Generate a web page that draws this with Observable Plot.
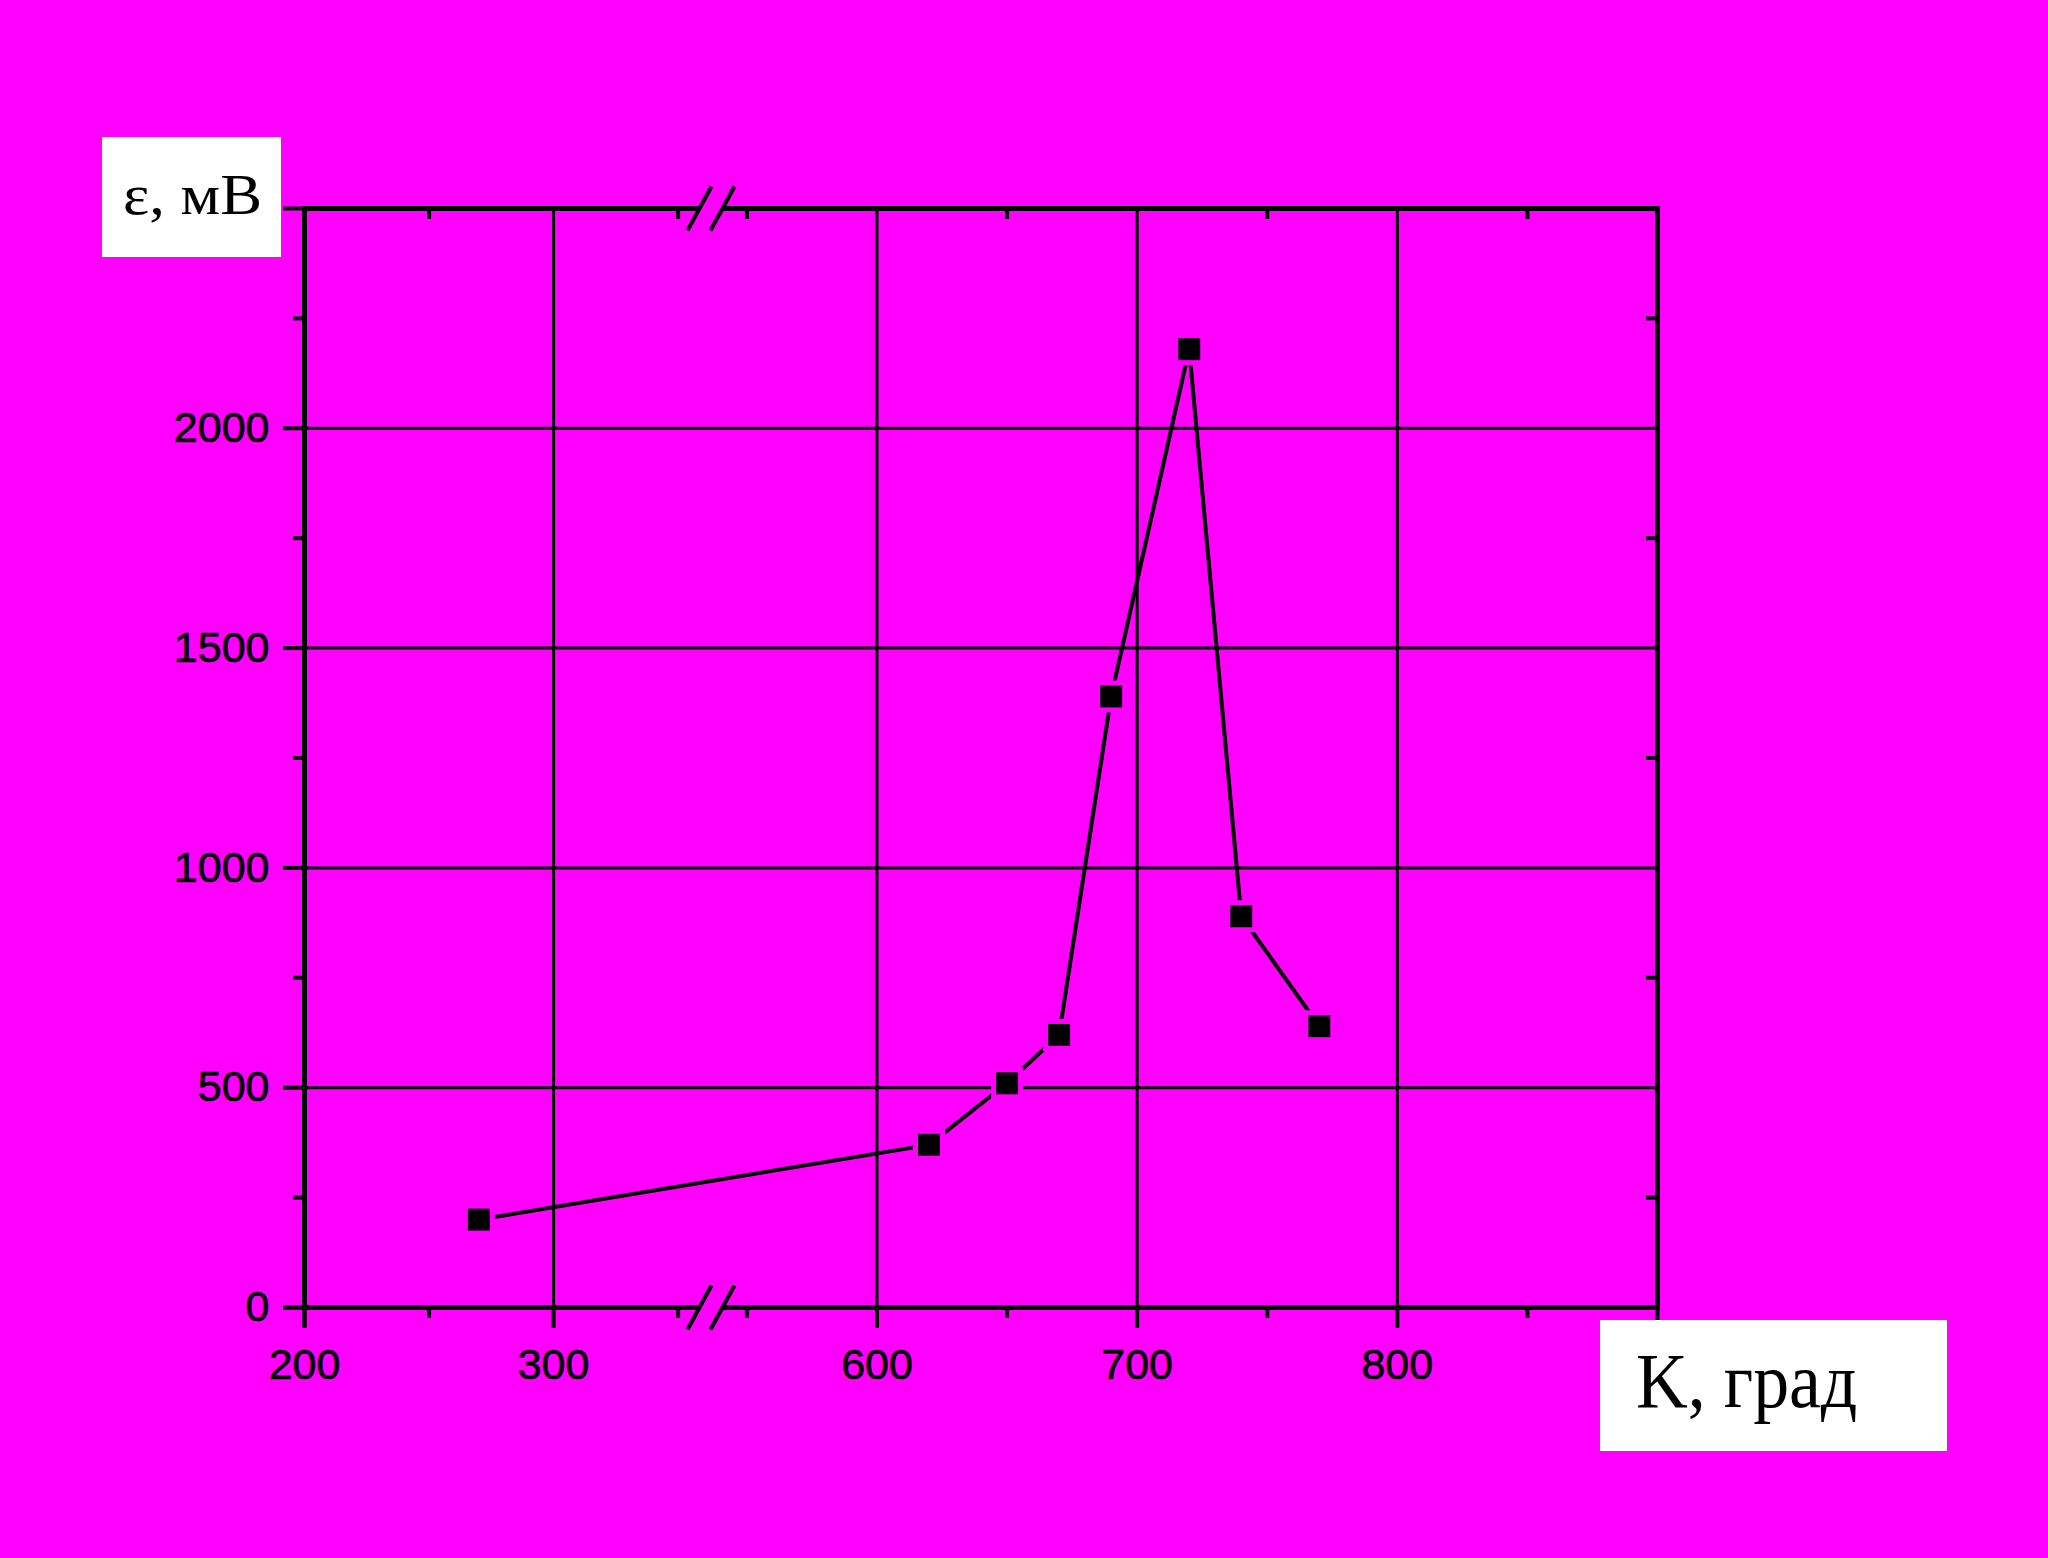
<!DOCTYPE html>
<html>
<head>
<meta charset="utf-8">
<script src="https://cdn.jsdelivr.net/npm/d3@7"></script>
<script src="https://cdn.jsdelivr.net/npm/@observablehq/plot@0.6"></script>
<style>
  html, body { margin: 0; padding: 0; background: #ff00ff; }
  #wrap { position: relative; width: 2048px; height: 1558px; overflow: hidden; }
  .lab { position: absolute; background: #ffffff; font-family: "Liberation Serif", "Times New Roman", serif; color: #000; }
  .lab span { position: absolute; white-space: nowrap; transform-origin: 0 0; }
  g[aria-label$="tick label"] text { stroke: #000; stroke-width: 0.7px; }
</style>
</head>
<body>
<div id="wrap"></div>
<script>
// ---- data ----
const temperature = [270, 620, 650, 670, 690, 720, 740, 770];
const emf = [200, 370, 510, 620, 1390, 2180, 890, 640];

const xLabeledTicks = [200, 300, 600, 700, 800];
const xMinorTicks = [250, 350, 550, 650, 750, 850];
const xGridLines = [300, 600, 700, 800];
const xBreak = [363, 536];          // axis break: left part ends, right part starts
const xExtent = [200, 900];

const yLabeledTicks = [0, 500, 1000, 1500, 2000];
const yMinorTicks = [250, 750, 1250, 1750, 2250];
const yGridLines = [500, 1000, 1500, 2000];
const yExtent = [0, 2500];

const yTitle = "ε, мВ";
const xTitle = "K, град";

// ---- layout ----
const W = 2048, H = 1558;
const mL = 304, mR = 391, mT = 208, mB = 251;
const frameW = W - mL - mR, frameH = H - mT - mB;
const breakPx = 710;

const data = temperature.map((t, i) => ({t, e: emf[i]}));
const breakEnds = yExtent.map(y => ({x: xBreak[0], y}));

const slash = {draw(ctx) { ctx.moveTo(-12, 22); ctx.lineTo(12, -22); }};
const gap = {draw(ctx) { ctx.rect(-12, -5, 24, 10); }};

const ink = "#000";
const bg = "#ff00ff";

const chart = Plot.plot({
  width: W,
  height: H,
  marginLeft: mL, marginRight: mR, marginTop: mT, marginBottom: mB,
  style: {background: "transparent", fontFamily: "'Liberation Sans', Arial, sans-serif", color: ink, overflow: "visible"},
  x: {type: "linear", domain: [xExtent[0], xBreak[0], xBreak[1], xExtent[1]], range: [mL, breakPx, breakPx, W - mR]},
  y: {domain: yExtent},
  marks: [
    Plot.gridX(xGridLines, {stroke: ink, strokeOpacity: 1, strokeWidth: 3}),
    Plot.gridY(yGridLines, {stroke: ink, strokeOpacity: 1, strokeWidth: 3}),
    // inward minor ticks on top and right
    Plot.ruleX(xMinorTicks, {stroke: ink, strokeWidth: 4, insetBottom: frameH - 11}),
    Plot.ruleY(yMinorTicks, {stroke: ink, strokeWidth: 4, insetLeft: frameW - 11}),
    Plot.frame({stroke: ink, strokeWidth: 5}),
    // outward ticks bottom & left
    Plot.axisX(xLabeledTicks, {anchor: "bottom", tickSize: 21, tickPadding: 20, strokeWidth: 4, fontSize: 43, label: null, tickFormat: d => String(d)}),
    Plot.axisX(xExtent, {anchor: "bottom", tickSize: 21, strokeWidth: 4, label: null, tickFormat: () => ""}),
    Plot.axisX(xMinorTicks, {anchor: "bottom", tickSize: 11, strokeWidth: 4, label: null, tickFormat: () => ""}),
    Plot.axisY(yLabeledTicks, {anchor: "left", tickSize: 21, tickPadding: 14, strokeWidth: 4, fontSize: 43, label: null, tickFormat: d => String(d)}),
    Plot.axisY(yExtent, {anchor: "left", tickSize: 21, strokeWidth: 4, label: null, tickFormat: () => ""}),
    Plot.axisY(yMinorTicks, {anchor: "left", tickSize: 11, strokeWidth: 4, label: null, tickFormat: () => ""}),
    // axis break marks
    Plot.dot(breakEnds, {x: "x", y: "y", symbol: gap, fill: bg, stroke: "none"}),
    Plot.dot(breakEnds, {x: "x", y: "y", dx: -11, symbol: slash, fill: "none", stroke: ink, strokeWidth: 4}),
    Plot.dot(breakEnds, {x: "x", y: "y", dx: 12, symbol: slash, fill: "none", stroke: ink, strokeWidth: 4}),
    // data
    Plot.line(data, {x: "t", y: "e", stroke: ink, strokeWidth: 4}),
    Plot.dot(data, {x: "t", y: "e", symbol: "square", r: 12.4, fill: ink, stroke: bg, strokeWidth: 10, paintOrder: "stroke"})
  ]
});

const wrap = document.getElementById("wrap");
wrap.appendChild(chart);

function addLabel(text, box, fontSize, textLeft, baseline, sx) {
  const d = document.createElement("div");
  d.className = "lab";
  Object.assign(d.style, {left: box[0] + "px", top: box[1] + "px", width: box[2] + "px", height: box[3] + "px"});
  const s = document.createElement("span");
  s.textContent = text;
  const top = baseline - box[1] - 0.8375 * fontSize;
  Object.assign(s.style, {left: (textLeft - box[0]) + "px", top: top + "px", fontSize: fontSize + "px", lineHeight: fontSize + "px", transform: `scaleX(${sx})`});
  d.appendChild(s);
  wrap.appendChild(d);
}
addLabel(yTitle, [102, 137, 179, 120], 58, 123, 215, 1.08);
addLabel(xTitle, [1600, 1320, 347, 131], 78, 1636, 1407, 0.92);
</script>
</body>
</html>
